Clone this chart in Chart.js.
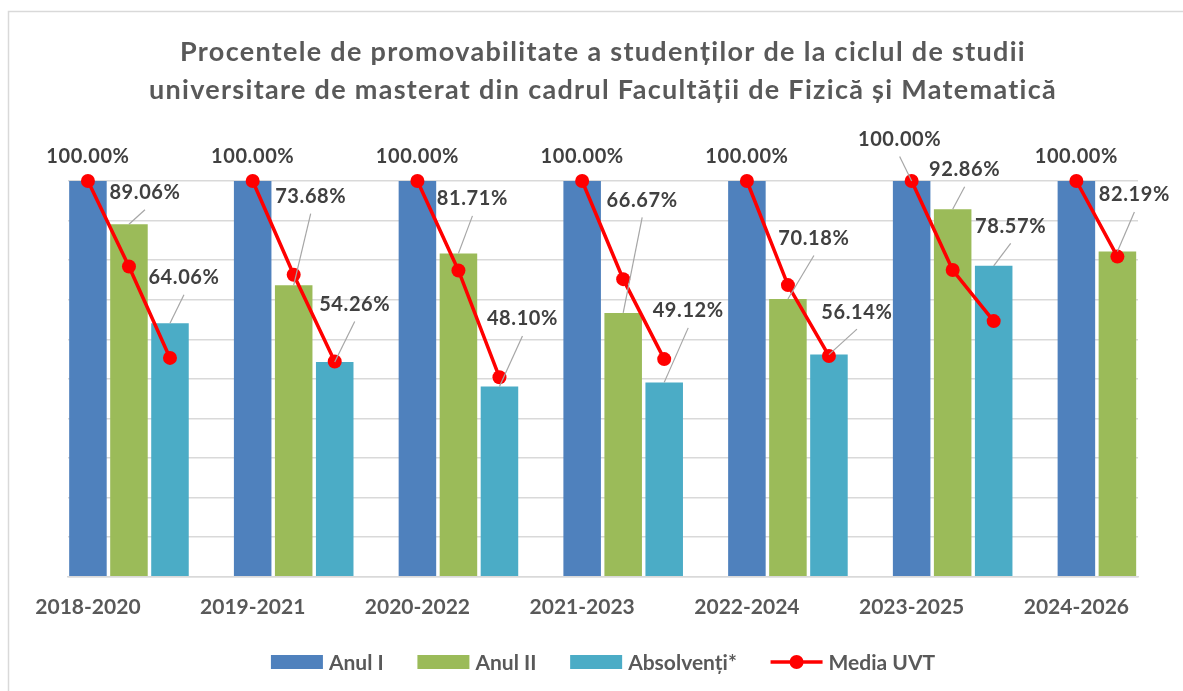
<!DOCTYPE html>
<html lang="ro">
<head>
<meta charset="utf-8">
<title>Promovabilitate masterat - Facultatea de Fizică și Matematică</title>
<script src="https://cdn.jsdelivr.net/npm/chart.js@4.4.1/dist/chart.umd.min.js"></script>
<style>
  html, body { margin: 0; padding: 0; background: #fff; }
  #wrap { width: 1183px; height: 691px; }
</style>
</head>
<body>
<div id="wrap"><canvas id="myChart" width="1183" height="691"></canvas></div>
<script>
// data
const periods = ['2018-2020', '2019-2021', '2020-2022', '2021-2023', '2022-2024', '2023-2025', '2024-2026'];
const seriesNames = ['Anul I', 'Anul II', 'Absolvenți*', 'Media UVT'];
const anulI = [100, 100, 100, 100, 100, 100, 100];
const anulII = [89.06, 73.68, 81.71, 66.67, 70.18, 92.86, 82.19];
const absolventi = [64.06, 54.26, 48.10, 49.12, 56.14, 78.57, null];
// Media UVT: one red marker over each bar of a group
const mediaAnulI = [100, 100, 100, 100, 100, 100, 100];
const mediaAnulII = [78.4, 76.3, 77.4, 75.2, 73.7, 77.5, 80.9];
const mediaAbsolventi = [55.3, 54.4, 50.4, 55.0, 55.8, 64.6, null];

// layout / style
const SLOT = 0.249;              // distance between bars of a group, in category units
const X_MIN = -0.37, X_MAX = 6.125;
const barColors = ['#4f81bd', '#9bbb59', '#4bacc6'];
const lineColor = '#ff0000';
const FONT = 'Lato, "Open Sans", sans-serif';

// where each value label sits, px from the top of its bar: [dx, dy(baseline), leader line]
const labelShift = [
  [[0, -18], [0, -18], [0, -18], [0, -18], [0, -18], [-12, -35, 1], [0, -18]],
  [[16, -25, 1], [17, -82, 1], [14, -48, 1], [19, -106, 1], [26, -54, 1], [12, -33, 1], [17, -50, 1]],
  [[14, -39, 1], [20, -51, 1], [23, -61, 1], [24, -65, 1], [28, -36, 1], [17, -33, 1], [0, 0]]
];

const toPoints = (arr) => arr.map((v, i) => ({ x: i, y: v }));

// the red line is broken between groups
const mediaPoints = [];
periods.forEach((p, i) => {
  [mediaAnulI[i], mediaAnulII[i], mediaAbsolventi[i]].forEach((v, k) => {
    if (v !== null) mediaPoints.push({ x: i + (k - 1) * SLOT, y: v });
  });
  mediaPoints.push({ x: i + 0.5, y: null });
});

// white background + the light frame of the chart object + title
const frame = {
  id: 'frame',
  beforeDraw(chart) {
    const { ctx, width, height } = chart;
    ctx.save();
    ctx.fillStyle = '#fff';
    ctx.fillRect(0, 0, width, height);
    ctx.strokeStyle = '#d9d9d9';
    ctx.lineWidth = 1.5;
    ctx.beginPath();
    ctx.moveTo(8.5, height);
    ctx.lineTo(8.5, 11.5);
    ctx.lineTo(width, 11.5);
    ctx.stroke();

    const cx = (chart.chartArea.left + chart.chartArea.right) / 2;
    ctx.fillStyle = '#595959';
    ctx.font = `bold 27px ${FONT}`;
    ctx.letterSpacing = '1.3px';
    ctx.textAlign = 'center';
    ctx.fillText('Procentele de promovabilitate a studenților de la ciclul de studii', cx, 61);
    ctx.fillText('universitare de masterat din cadrul Facultății de Fizică și Matematică', cx, 99);
    ctx.restore();
  }
};

// value labels with leader lines
const barLabels = {
  id: 'barLabels',
  afterDatasetsDraw(chart) {
    const { ctx } = chart;
    ctx.save();
    ctx.font = `bold 20px ${FONT}`;
    ctx.letterSpacing = '0.6px';
    ctx.textAlign = 'center';
    ctx.textBaseline = 'alphabetic';
    [1, 2, 3].forEach((d, s) => {
      const meta = chart.getDatasetMeta(d);
      const values = chart.data.datasets[d].data;
      meta.data.forEach((bar, i) => {
        const v = values[i].y;
        if (v === null) return;
        const [dx, dy, leader] = labelShift[s][i];
        const lx = bar.x + dx, ly = bar.y + dy;
        if (leader) {
          ctx.strokeStyle = '#a6a6a6';
          ctx.lineWidth = 1.2;
          ctx.beginPath();
          ctx.moveTo(lx, ly + 10.5);
          ctx.lineTo(bar.x, bar.y);
          ctx.stroke();
        }
        ctx.fillStyle = '#404040';
        ctx.fillText(v.toFixed(2) + '%', lx, ly);
      });
    });
    ctx.restore();
  }
};

// legend at the bottom
const bottomLegend = {
  id: 'bottomLegend',
  afterDraw(chart) {
    const { ctx } = chart;
    const cx = (chart.chartArea.left + chart.chartArea.right) / 2;
    const cy = 662;
    const boxW = 52, gap = 6, spacing = 33.7;
    ctx.save();
    ctx.font = `bold 21px ${FONT}`;
    const widths = seriesNames.map(n => boxW + gap + ctx.measureText(n).width);
    const total = widths.reduce((a, b) => a + b, 0) + spacing * (widths.length - 1);
    let x = cx - total / 2;
    seriesNames.forEach((name, k) => {
      if (k < 3) {
        ctx.fillStyle = barColors[k];
        ctx.fillRect(x, cy - 7, boxW, 14);
      } else {
        ctx.strokeStyle = lineColor;
        ctx.lineWidth = 3.5;
        ctx.beginPath();
        ctx.moveTo(x, cy);
        ctx.lineTo(x + boxW, cy);
        ctx.stroke();
        ctx.fillStyle = lineColor;
        ctx.beginPath();
        ctx.arc(x + boxW / 2, cy, 7, 0, Math.PI * 2);
        ctx.fill();
      }
      ctx.fillStyle = '#595959';
      ctx.textAlign = 'left';
      ctx.textBaseline = 'alphabetic';
      ctx.fillText(name, x + boxW + gap, cy + 7.5);
      x += widths[k] + spacing;
    });
    ctx.restore();
  }
};

const ctx = document.getElementById('myChart').getContext('2d');

const myChart = new Chart(ctx, {
  type: 'bar',
  data: {
    datasets: [
      {
        type: 'line',
        label: seriesNames[3],
        data: mediaPoints,
        borderColor: lineColor,
        backgroundColor: lineColor,
        borderWidth: 3.5,
        pointRadius: 7,
        pointHoverRadius: 7,
        pointBorderWidth: 0,
        spanGaps: false,
        clip: false
      },
      { label: seriesNames[0], data: toPoints(anulI), backgroundColor: barColors[0] },
      { label: seriesNames[1], data: toPoints(anulII), backgroundColor: barColors[1] },
      { label: seriesNames[2], data: toPoints(absolventi), backgroundColor: barColors[2] }
    ]
  },
  options: {
    responsive: false,
    animation: false,
    devicePixelRatio: 1,
    categoryPercentage: SLOT * 3,
    barPercentage: 0.915,
    layout: { padding: { left: 68, right: 45, top: 181, bottom: 61 } },
    scales: {
      x: {
        type: 'linear',
        min: X_MIN,
        max: X_MAX,
        offset: false,
        grid: { display: false },
        border: { color: '#d9d9d9', width: 1.5 },
        afterBuildTicks: (axis) => {
          axis.ticks = periods.map((p, i) => ({ value: i - SLOT }));
        },
        ticks: {
          autoSkip: false,
          maxRotation: 0,
          padding: 10,
          color: '#595959',
          font: { family: FONT, size: 21, weight: 'bold' },
          callback: (value, index) => periods[index]
        }
      },
      y: {
        min: 0,
        max: 100,
        ticks: { display: false, stepSize: 10 },
        grid: { color: '#d9d9d9', lineWidth: 1.5, drawTicks: false },
        border: { display: false }
      }
    },
    plugins: {
      legend: { display: false },
      title: { display: false },
      tooltip: { enabled: false }
    }
  },
  plugins: [frame, barLabels, bottomLegend]
});
</script>
</body>
</html>
